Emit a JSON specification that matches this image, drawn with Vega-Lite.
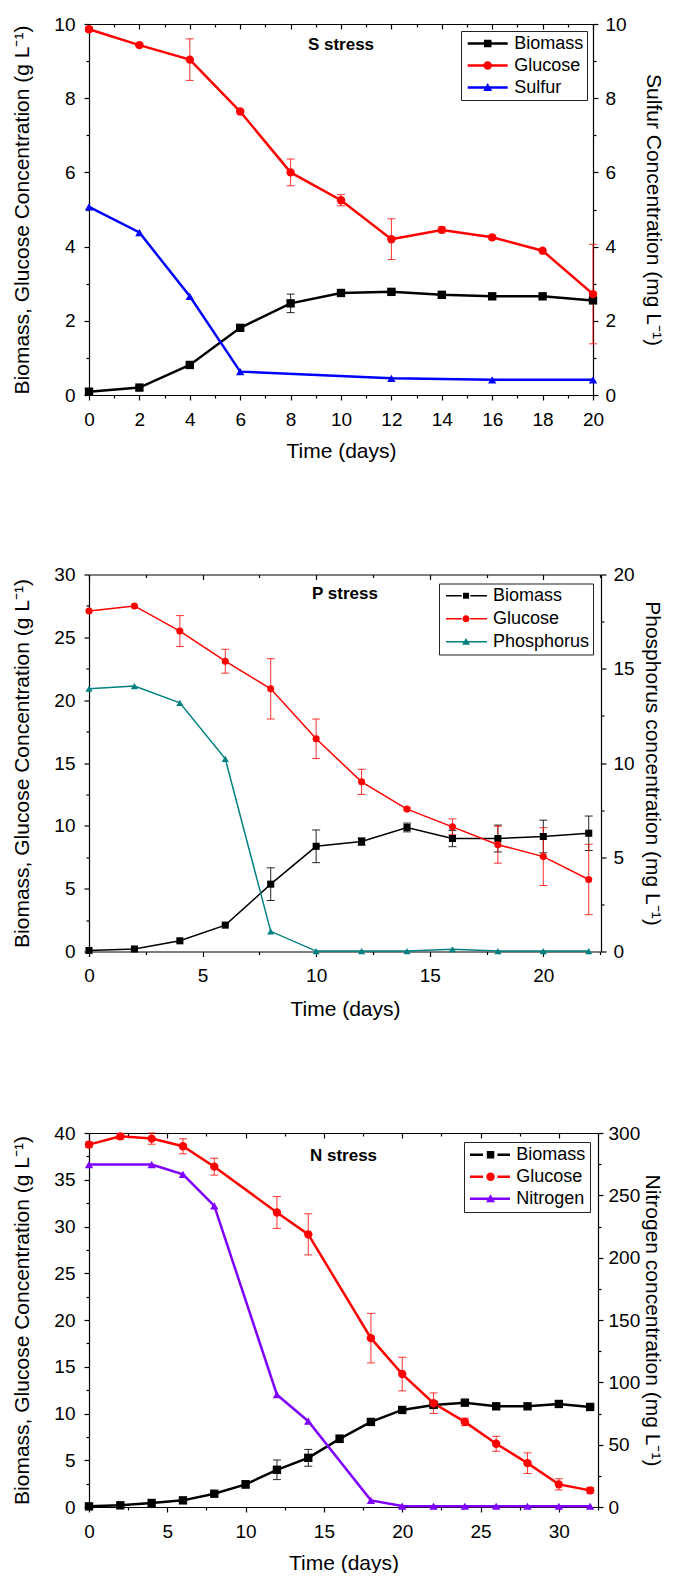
{
"$schema": "https://vega.github.io/schema/vega-lite/v6.json",
"background": "white",
"padding": {"left": 11, "top": 15, "right": 0, "bottom": 0},
"spacing": 104.5,
"config": {
  "view": {"stroke": null},
  "font": "Liberation Sans",
  "axis": {"labelFont": "Liberation Sans", "titleFont": "Liberation Sans", "labelColor": "black", "titleColor": "black", "domainColor": "black", "tickColor": "black", "grid": false, "labelFontSize": 19, "titleFontSize": 21, "titleFontWeight": "normal", "domainWidth": 1.2, "tickWidth": 1.2, "labelFlush": false, "labelOverlap": false}
},
"resolve": {"scale": {"x": "independent", "y": "independent", "color": "independent", "shape": "independent"}, "legend": {"color": "independent", "shape": "independent"}},
"datasets": {
"p1": [
{"t":0,"s":"Biomass","v":0.09,"e":0},{"t":2,"s":"Biomass","v":0.2,"e":0},{"t":4,"s":"Biomass","v":0.81,"e":0},{"t":6,"s":"Biomass","v":1.81,"e":0},{"t":8,"s":"Biomass","v":2.47,"e":0.25},{"t":10,"s":"Biomass","v":2.75,"e":0.08},{"t":12,"s":"Biomass","v":2.78,"e":0.05},{"t":14,"s":"Biomass","v":2.7,"e":0},{"t":16,"s":"Biomass","v":2.66,"e":0},{"t":18,"s":"Biomass","v":2.66,"e":0},{"t":20,"s":"Biomass","v":2.55,"e":0},
{"t":0,"s":"Glucose","v":9.86,"e":0.06},{"t":2,"s":"Glucose","v":9.43,"e":0.04},{"t":4,"s":"Glucose","v":9.04,"e":0.56},{"t":6,"s":"Glucose","v":7.64,"e":0.04},{"t":8,"s":"Glucose","v":6.0,"e":0.36},{"t":10,"s":"Glucose","v":5.25,"e":0.15},{"t":12,"s":"Glucose","v":4.2,"e":0.55},{"t":14,"s":"Glucose","v":4.45,"e":0.08},{"t":16,"s":"Glucose","v":4.25,"e":0.05},{"t":18,"s":"Glucose","v":3.89,"e":0},{"t":20,"s":"Glucose","v":2.72,"e":1.34},
{"t":0,"s":"Sulfur","v":5.07,"e":0},{"t":2,"s":"Sulfur","v":4.38,"e":0},{"t":4,"s":"Sulfur","v":2.66,"e":0},{"t":6,"s":"Sulfur","v":0.63,"e":0},{"t":12,"s":"Sulfur","v":0.45,"e":0},{"t":16,"s":"Sulfur","v":0.41,"e":0},{"t":20,"s":"Sulfur","v":0.41,"e":0}
],
"p2": [
{"t":0,"s":"Biomass","v":0.08,"e":0},{"t":2,"s":"Biomass","v":0.2,"e":0},{"t":4,"s":"Biomass","v":0.85,"e":0},{"t":6,"s":"Biomass","v":2.1,"e":0},{"t":8,"s":"Biomass","v":5.36,"e":1.3},{"t":10,"s":"Biomass","v":8.37,"e":1.3},{"t":12,"s":"Biomass","v":8.75,"e":0.3},{"t":14,"s":"Biomass","v":9.87,"e":0.35},{"t":16,"s":"Biomass","v":8.99,"e":0.65},{"t":18,"s":"Biomass","v":8.99,"e":1.07},{"t":20,"s":"Biomass","v":9.15,"e":1.3},{"t":22,"s":"Biomass","v":9.41,"e":1.37},
{"t":0,"s":"Glucose","v":27.1,"e":0},{"t":2,"s":"Glucose","v":27.5,"e":0},{"t":4,"s":"Glucose","v":25.5,"e":1.23},{"t":6,"s":"Glucose","v":23.1,"e":0.95},{"t":8,"s":"Glucose","v":20.9,"e":2.4},{"t":10,"s":"Glucose","v":16.93,"e":1.57},{"t":12,"s":"Glucose","v":13.5,"e":1.0},{"t":14,"s":"Glucose","v":11.33,"e":0.1},{"t":16,"s":"Glucose","v":9.92,"e":0.63},{"t":18,"s":"Glucose","v":8.5,"e":1.47},{"t":20,"s":"Glucose","v":7.55,"e":2.3},{"t":22,"s":"Glucose","v":5.73,"e":2.8},
{"t":0,"s":"Phosphorus","v":13.94,"e":0},{"t":2,"s":"Phosphorus","v":14.08,"e":0},{"t":4,"s":"Phosphorus","v":13.19,"e":0},{"t":6,"s":"Phosphorus","v":10.22,"e":0},{"t":8,"s":"Phosphorus","v":1.07,"e":0},{"t":10,"s":"Phosphorus","v":0.02,"e":0},{"t":12,"s":"Phosphorus","v":0.02,"e":0},{"t":14,"s":"Phosphorus","v":0.02,"e":0},{"t":16,"s":"Phosphorus","v":0.12,"e":0},{"t":18,"s":"Phosphorus","v":0.02,"e":0},{"t":20,"s":"Phosphorus","v":0.02,"e":0},{"t":22,"s":"Phosphorus","v":0.02,"e":0}
],
"p3": [
{"t":0,"s":"Biomass","v":0.07,"e":0},{"t":2,"s":"Biomass","v":0.18,"e":0},{"t":4,"s":"Biomass","v":0.43,"e":0},{"t":6,"s":"Biomass","v":0.71,"e":0},{"t":8,"s":"Biomass","v":1.42,"e":0},{"t":10,"s":"Biomass","v":2.42,"e":0.4},{"t":12,"s":"Biomass","v":3.98,"e":1.05},{"t":14,"s":"Biomass","v":5.26,"e":0.9},{"t":16,"s":"Biomass","v":7.29,"e":0.4},{"t":18,"s":"Biomass","v":9.1,"e":0.15},{"t":20,"s":"Biomass","v":10.38,"e":0.15},{"t":22,"s":"Biomass","v":10.92,"e":0.3},{"t":24,"s":"Biomass","v":11.16,"e":0.1},{"t":26,"s":"Biomass","v":10.77,"e":0},{"t":28,"s":"Biomass","v":10.77,"e":0},{"t":30,"s":"Biomass","v":11.02,"e":0},{"t":32,"s":"Biomass","v":10.7,"e":0},
{"t":0,"s":"Glucose","v":38.76,"e":0.3},{"t":2,"s":"Glucose","v":39.64,"e":0.3},{"t":4,"s":"Glucose","v":39.4,"e":0.6},{"t":6,"s":"Glucose","v":38.58,"e":0.8},{"t":8,"s":"Glucose","v":36.4,"e":0.9},{"t":12,"s":"Glucose","v":31.5,"e":1.7},{"t":14,"s":"Glucose","v":29.16,"e":2.2},{"t":18,"s":"Glucose","v":18.06,"e":2.65},{"t":20,"s":"Glucose","v":14.22,"e":1.8},{"t":22,"s":"Glucose","v":11.1,"e":1.1},{"t":24,"s":"Glucose","v":9.1,"e":0.4},{"t":26,"s":"Glucose","v":6.76,"e":0.8},{"t":28,"s":"Glucose","v":4.69,"e":1.1},{"t":30,"s":"Glucose","v":2.42,"e":0.6},{"t":32,"s":"Glucose","v":1.78,"e":0.3},
{"t":0,"s":"Nitrogen","v":274.7,"e":0},{"t":4,"s":"Nitrogen","v":274.7,"e":0},{"t":6,"s":"Nitrogen","v":266.9,"e":0},{"t":8,"s":"Nitrogen","v":241.6,"e":0},{"t":12,"s":"Nitrogen","v":90.1,"e":0},{"t":14,"s":"Nitrogen","v":68.8,"e":0},{"t":18,"s":"Nitrogen","v":5.3,"e":0},{"t":20,"s":"Nitrogen","v":0.8,"e":0},{"t":22,"s":"Nitrogen","v":0.6,"e":0},{"t":24,"s":"Nitrogen","v":0.6,"e":0},{"t":26,"s":"Nitrogen","v":0.6,"e":0},{"t":28,"s":"Nitrogen","v":0.6,"e":0},{"t":30,"s":"Nitrogen","v":0.6,"e":0},{"t":32,"s":"Nitrogen","v":0.6,"e":0}
]
},
"vconcat": [
{
 "data": {"name": "p1"},
 "width": 504, "height": 371,
 "title": {"text": "S stress", "fontSize": 17, "fontWeight": "bold", "font": "Liberation Sans", "anchor": "middle", "baseline": "middle", "offset": -47, "color": "black"},
 "resolve": {"scale": {"y": "independent"}, "axis": {"x": "independent", "y": "independent"}},
 "layer": [
  {
   "resolve": {"axis": {"x": "independent", "y": "independent"}},
   "layer": [
    {"transform": [{"filter": "datum.s === 'Biomass' && datum.e > 0"}],
     "mark": {"type": "errorbar", "color": "#000000", "thickness": 1, "ticks": {"size": 8}, "opacity": 0.85},
     "encoding": {"x": {"field": "t", "type": "quantitative", "scale": {"domain": [0, 20], "nice": false}, "axis": null},
      "y": {"field": "v", "type": "quantitative", "scale": {"domain": [0, 10], "nice": false}, "axis": null}, "yError": {"field": "e"}}},
    {"transform": [{"filter": "datum.s === 'Glucose' && datum.e > 0"}],
     "mark": {"type": "errorbar", "color": "#ff0000", "thickness": 1, "ticks": {"size": 8}, "opacity": 0.8},
     "encoding": {"x": {"field": "t", "type": "quantitative", "scale": {"domain": [0, 20], "nice": false}, "axis": null},
      "y": {"field": "v", "type": "quantitative", "scale": {"domain": [0, 10], "nice": false}, "axis": null}, "yError": {"field": "e"}}},
    {"transform": [{"filter": "datum.s === 'Biomass'"}],
     "mark": {"type": "line", "color": "#000000", "strokeWidth": 2.5},
     "encoding": {"x": {"field": "t", "type": "quantitative", "scale": {"domain": [0, 20], "nice": false}, "axis": {"orient": "bottom", "values": [0,2,4,6,8,10,12,14,16,18,20], "title": "Time (days)", "tickSize": 5, "labelPadding": 10, "titlePadding": 11}},
      "y": {"field": "v", "type": "quantitative", "scale": {"domain": [0, 10], "nice": false}, "axis": {"orient": "left", "values": [0,2,4,6,8,10], "title": "Biomass, Glucose Concentration (g L⁻¹)", "tickSize": 5, "labelPadding": 9, "titlePadding": 21}}}},
    {"transform": [{"filter": "datum.s === 'Glucose'"}],
     "mark": {"type": "line", "color": "#ff0000", "strokeWidth": 2.5},
     "encoding": {"x": {"field": "t", "type": "quantitative", "scale": {"domain": [0, 20], "nice": false}, "axis": {"orient": "bottom", "values": [1,3,5,7,9,11,13,15,17,19], "tickSize": 3, "labels": false, "domain": false, "title": null}},
      "y": {"field": "v", "type": "quantitative", "scale": {"domain": [0, 10], "nice": false}, "axis": {"orient": "left", "values": [1,3,5,7,9], "tickSize": 3, "labels": false, "domain": false, "title": null}}}},
    {"transform": [{"filter": "datum.s === 'Biomass'"}],
     "mark": {"type": "point", "shape": "square", "filled": true, "color": "#000000", "size": 70, "opacity": 1},
     "encoding": {"x": {"field": "t", "type": "quantitative", "scale": {"domain": [0, 20], "nice": false}, "axis": null},
      "y": {"field": "v", "type": "quantitative", "scale": {"domain": [0, 10], "nice": false}, "axis": null}}},
    {"transform": [{"filter": "datum.s === 'Glucose'"}],
     "mark": {"type": "point", "shape": "circle", "filled": true, "color": "#ff0000", "size": 70, "opacity": 1},
     "encoding": {"x": {"field": "t", "type": "quantitative", "scale": {"domain": [0, 20], "nice": false}, "axis": null},
      "y": {"field": "v", "type": "quantitative", "scale": {"domain": [0, 10], "nice": false}, "axis": null}}}
   ]
  },
  {
   "transform": [{"filter": "datum.s === 'Sulfur'"}],
   "resolve": {"axis": {"x": "independent", "y": "independent"}},
   "layer": [
    {"mark": {"type": "line", "color": "#0000ff", "strokeWidth": 2.5},
     "encoding": {"x": {"field": "t", "type": "quantitative", "scale": {"domain": [0, 20], "nice": false}, "axis": {"orient": "top", "values": [0,2,4,6,8,10,12,14,16,18,20], "tickSize": -5, "labels": false, "title": null}},
      "y": {"field": "v", "type": "quantitative", "scale": {"domain": [0, 10], "nice": false}, "axis": {"orient": "right", "values": [0,2,4,6,8,10], "title": "Sulfur Concentration (mg L⁻¹)", "tickSize": 5, "labelPadding": 7, "titlePadding": 16}}}},
    {"mark": {"type": "point", "shape": "triangle-up", "filled": true, "color": "#0000ff", "size": 70, "opacity": 1},
     "encoding": {"x": {"field": "t", "type": "quantitative", "scale": {"domain": [0, 20], "nice": false}, "axis": {"orient": "top", "values": [1,3,5,7,9,11,13,15,17,19], "tickSize": -3, "labels": false, "domain": false, "title": null}},
      "y": {"field": "v", "type": "quantitative", "scale": {"domain": [0, 10], "nice": false}, "axis": {"orient": "right", "values": [1,3,5,7,9], "tickSize": 3, "labels": false, "domain": false, "title": null}}}}
   ]
  },
  {
   "mark": {"type": "point", "filled": true, "opacity": 0, "size": 256},
   "encoding": {
    "x": {"field": "t", "type": "quantitative", "scale": {"domain": [0, 20], "nice": false}, "axis": null},
    "y": {"field": "v", "type": "quantitative", "scale": {"domain": [0, 10], "nice": false, "clamp": true}, "axis": null},
    "color": {"field": "s", "type": "nominal", "scale": {"domain": ["Biomass", "Glucose", "Sulfur"], "range": ["#000000", "#ff0000", "#0000ff"]},
      "legend": {"title": null, "orient": "top-right", "offset": 6.5, "padding": 3.5, "rowPadding": 4, "strokeColor": "#222222", "fillColor": "white", "symbolSize": 256, "symbolStrokeWidth": 0, "symbolOpacity": 1, "labelOffset": 31.8, "labelFontSize": 18, "labelFont": "Liberation Sans", "labelColor": "black", "labelLimit": 0}},
    "shape": {"field": "s", "type": "nominal", "scale": {"domain": ["Biomass", "Glucose", "Sulfur"], "range": [
      "M-0.725,-0.156H4.275V0.156H-0.725ZM1.305,-0.47H2.245V0.47H1.305Z",
      "M-0.725,-0.156H4.275V0.156H-0.725ZM1.245,0A0.53,0.53,0,1,1,2.305,0A0.53,0.53,0,1,1,1.245,0Z",
      "M-0.725,-0.156H4.275V0.156H-0.725ZM1.775,-0.55L2.335,0.45H1.215Z"]},
      "legend": {"title": null, "orient": "top-right", "offset": 6.5, "padding": 3.5, "rowPadding": 4, "strokeColor": "#222222", "fillColor": "white", "symbolSize": 256, "symbolStrokeWidth": 0, "symbolOpacity": 1, "labelOffset": 31.8, "labelFontSize": 18, "labelFont": "Liberation Sans", "labelColor": "black", "labelLimit": 0}}
   }
  }
 ]
},
{
 "data": {"name": "p2"},
 "width": 512, "height": 377,
 "title": {"text": "P stress", "fontSize": 17, "fontWeight": "bold", "font": "Liberation Sans", "anchor": "middle", "baseline": "middle", "offset": -45, "color": "black"},
 "resolve": {"scale": {"y": "independent"}, "axis": {"x": "independent", "y": "independent"}},
 "layer": [
  {
   "resolve": {"axis": {"x": "independent", "y": "independent"}},
   "layer": [
    {"transform": [{"filter": "datum.s === 'Biomass' && datum.e > 0"}],
     "mark": {"type": "errorbar", "color": "#000000", "thickness": 1, "ticks": {"size": 8}, "opacity": 0.85},
     "encoding": {"x": {"field": "t", "type": "quantitative", "scale": {"domain": [0, 22.54], "nice": false}, "axis": null},
      "y": {"field": "v", "type": "quantitative", "scale": {"domain": [0, 30], "nice": false}, "axis": null}, "yError": {"field": "e"}}},
    {"transform": [{"filter": "datum.s === 'Glucose' && datum.e > 0"}],
     "mark": {"type": "errorbar", "color": "#ff0000", "thickness": 1, "ticks": {"size": 8}, "opacity": 0.8},
     "encoding": {"x": {"field": "t", "type": "quantitative", "scale": {"domain": [0, 22.54], "nice": false}, "axis": null},
      "y": {"field": "v", "type": "quantitative", "scale": {"domain": [0, 30], "nice": false}, "axis": null}, "yError": {"field": "e"}}},
    {"transform": [{"filter": "datum.s === 'Biomass'"}],
     "mark": {"type": "line", "color": "#000000", "strokeWidth": 1.5},
     "encoding": {"x": {"field": "t", "type": "quantitative", "scale": {"domain": [0, 22.54], "nice": false}, "axis": {"orient": "bottom", "values": [0,5,10,15,20], "title": "Time (days)", "tickSize": 5, "labelPadding": 10, "titlePadding": 13}},
      "y": {"field": "v", "type": "quantitative", "scale": {"domain": [0, 30], "nice": false}, "axis": {"orient": "left", "values": [0,5,10,15,20,25,30], "title": "Biomass, Glucose Concentration (g L⁻¹)", "tickSize": 5, "labelPadding": 9, "titlePadding": 21}}}},
    {"transform": [{"filter": "datum.s === 'Glucose'"}],
     "mark": {"type": "line", "color": "#ff0000", "strokeWidth": 1.5},
     "encoding": {"x": {"field": "t", "type": "quantitative", "scale": {"domain": [0, 22.54], "nice": false}, "axis": {"orient": "bottom", "values": [2.5,7.5,12.5,17.5,22.5], "tickSize": 3, "labels": false, "domain": false, "title": null}},
      "y": {"field": "v", "type": "quantitative", "scale": {"domain": [0, 30], "nice": false}, "axis": {"orient": "left", "values": [2.5,7.5,12.5,17.5,22.5,27.5], "tickSize": 3, "labels": false, "domain": false, "title": null}}}},
    {"transform": [{"filter": "datum.s === 'Biomass'"}],
     "mark": {"type": "point", "shape": "square", "filled": true, "color": "#000000", "size": 50, "opacity": 1},
     "encoding": {"x": {"field": "t", "type": "quantitative", "scale": {"domain": [0, 22.54], "nice": false}, "axis": null},
      "y": {"field": "v", "type": "quantitative", "scale": {"domain": [0, 30], "nice": false}, "axis": null}}},
    {"transform": [{"filter": "datum.s === 'Glucose'"}],
     "mark": {"type": "point", "shape": "circle", "filled": true, "color": "#ff0000", "size": 50, "opacity": 1},
     "encoding": {"x": {"field": "t", "type": "quantitative", "scale": {"domain": [0, 22.54], "nice": false}, "axis": null},
      "y": {"field": "v", "type": "quantitative", "scale": {"domain": [0, 30], "nice": false}, "axis": null}}}
   ]
  },
  {
   "transform": [{"filter": "datum.s === 'Phosphorus'"}],
   "resolve": {"axis": {"x": "independent", "y": "independent"}},
   "layer": [
    {"mark": {"type": "line", "color": "#008080", "strokeWidth": 1.5},
     "encoding": {"x": {"field": "t", "type": "quantitative", "scale": {"domain": [0, 22.54], "nice": false}, "axis": {"orient": "top", "values": [0,5,10,15,20], "tickSize": -5, "labels": false, "title": null}},
      "y": {"field": "v", "type": "quantitative", "scale": {"domain": [0, 20], "nice": false}, "axis": {"orient": "right", "values": [0,5,10,15,20], "title": "Phosphorus concentration (mg L⁻¹)", "tickSize": 5, "labelPadding": 7, "titlePadding": 7}}}},
    {"mark": {"type": "point", "shape": "triangle-up", "filled": true, "color": "#008080", "size": 50, "opacity": 1},
     "encoding": {"x": {"field": "t", "type": "quantitative", "scale": {"domain": [0, 22.54], "nice": false}, "axis": {"orient": "top", "values": [2.5,7.5,12.5,17.5,22.5], "tickSize": -3, "labels": false, "domain": false, "title": null}},
      "y": {"field": "v", "type": "quantitative", "scale": {"domain": [0, 20], "nice": false}, "axis": {"orient": "right", "values": [2.5,7.5,12.5,17.5], "tickSize": 3, "labels": false, "domain": false, "title": null}}}}
   ]
  },
  {
   "mark": {"type": "point", "filled": true, "opacity": 0, "size": 256},
   "encoding": {
    "x": {"field": "t", "type": "quantitative", "scale": {"domain": [0, 22.54], "nice": false}, "axis": null},
    "y": {"field": "v", "type": "quantitative", "scale": {"domain": [0, 30], "nice": false, "clamp": true}, "axis": null},
    "color": {"field": "s", "type": "nominal", "scale": {"domain": ["Biomass", "Glucose", "Phosphorus"], "range": ["#000000", "#ff0000", "#008080"]},
      "legend": {"title": null, "orient": "top-right", "offset": 8.5, "padding": 3.3, "rowPadding": 5, "strokeColor": "#222222", "fillColor": "white", "symbolSize": 256, "symbolStrokeWidth": 0, "symbolOpacity": 1, "labelOffset": 32.7, "labelFontSize": 18, "labelFont": "Liberation Sans", "labelColor": "black", "labelLimit": 0}},
    "shape": {"field": "s", "type": "nominal", "scale": {"domain": ["Biomass", "Glucose", "Phosphorus"], "range": [
      "M-0.66,-0.094H1.3V0.094H-0.66ZM2.38,-0.094H4.46V0.094H2.38ZM1.465,-0.375H2.215V0.375H1.465Z",
      "M-0.66,-0.094H1.3V0.094H-0.66ZM2.38,-0.094H4.46V0.094H2.38ZM1.4,0A0.44,0.44,0,1,1,2.28,0A0.44,0.44,0,1,1,1.4,0Z",
      "M-0.66,-0.094H4.46V0.094H-0.66ZM1.84,-0.48L2.33,0.38H1.35Z"]},
      "legend": {"title": null, "orient": "top-right", "offset": 8.5, "padding": 3.3, "rowPadding": 5, "strokeColor": "#222222", "fillColor": "white", "symbolSize": 256, "symbolStrokeWidth": 0, "symbolOpacity": 1, "labelOffset": 32.7, "labelFontSize": 18, "labelFont": "Liberation Sans", "labelColor": "black", "labelLimit": 0}}
   }
  }
 ]
},
{
 "data": {"name": "p3"},
 "width": 509, "height": 374,
 "title": {"text": "N stress", "fontSize": 17, "fontWeight": "bold", "font": "Liberation Sans", "anchor": "middle", "baseline": "middle", "offset": -49, "color": "black"},
 "resolve": {"scale": {"y": "independent"}, "axis": {"x": "independent", "y": "independent"}},
 "layer": [
  {
   "resolve": {"axis": {"x": "independent", "y": "independent"}},
   "layer": [
    {"transform": [{"filter": "datum.s === 'Biomass' && datum.e > 0"}],
     "mark": {"type": "errorbar", "color": "#000000", "thickness": 1, "ticks": {"size": 8}, "opacity": 0.85},
     "encoding": {"x": {"field": "t", "type": "quantitative", "scale": {"domain": [0, 32.5], "nice": false}, "axis": null},
      "y": {"field": "v", "type": "quantitative", "scale": {"domain": [0, 40], "nice": false}, "axis": null}, "yError": {"field": "e"}}},
    {"transform": [{"filter": "datum.s === 'Glucose' && datum.e > 0"}],
     "mark": {"type": "errorbar", "color": "#ff0000", "thickness": 1, "ticks": {"size": 8}, "opacity": 0.8},
     "encoding": {"x": {"field": "t", "type": "quantitative", "scale": {"domain": [0, 32.5], "nice": false}, "axis": null},
      "y": {"field": "v", "type": "quantitative", "scale": {"domain": [0, 40], "nice": false}, "axis": null}, "yError": {"field": "e"}}},
    {"transform": [{"filter": "datum.s === 'Biomass'"}],
     "mark": {"type": "line", "color": "#000000", "strokeWidth": 2.5},
     "encoding": {"x": {"field": "t", "type": "quantitative", "scale": {"domain": [0, 32.5], "nice": false}, "axis": {"orient": "bottom", "values": [0,5,10,15,20,25,30], "title": "Time (days)", "tickSize": 5, "labelPadding": 10, "titlePadding": 11}},
      "y": {"field": "v", "type": "quantitative", "scale": {"domain": [0, 40], "nice": false}, "axis": {"orient": "left", "values": [0,5,10,15,20,25,30,35,40], "title": "Biomass, Glucose Concentration (g L⁻¹)", "tickSize": 5, "labelPadding": 9, "titlePadding": 21}}}},
    {"transform": [{"filter": "datum.s === 'Glucose'"}],
     "mark": {"type": "line", "color": "#ff0000", "strokeWidth": 2.5},
     "encoding": {"x": {"field": "t", "type": "quantitative", "scale": {"domain": [0, 32.5], "nice": false}, "axis": {"orient": "bottom", "values": [2.5,7.5,12.5,17.5,22.5,27.5,32.5], "tickSize": 3, "labels": false, "domain": false, "title": null}},
      "y": {"field": "v", "type": "quantitative", "scale": {"domain": [0, 40], "nice": false}, "axis": {"orient": "left", "values": [2.5,7.5,12.5,17.5,22.5,27.5,32.5,37.5], "tickSize": 3, "labels": false, "domain": false, "title": null}}}},
    {"transform": [{"filter": "datum.s === 'Biomass'"}],
     "mark": {"type": "point", "shape": "square", "filled": true, "color": "#000000", "size": 70, "opacity": 1},
     "encoding": {"x": {"field": "t", "type": "quantitative", "scale": {"domain": [0, 32.5], "nice": false}, "axis": null},
      "y": {"field": "v", "type": "quantitative", "scale": {"domain": [0, 40], "nice": false}, "axis": null}}},
    {"transform": [{"filter": "datum.s === 'Glucose'"}],
     "mark": {"type": "point", "shape": "circle", "filled": true, "color": "#ff0000", "size": 70, "opacity": 1},
     "encoding": {"x": {"field": "t", "type": "quantitative", "scale": {"domain": [0, 32.5], "nice": false}, "axis": null},
      "y": {"field": "v", "type": "quantitative", "scale": {"domain": [0, 40], "nice": false}, "axis": null}}}
   ]
  },
  {
   "transform": [{"filter": "datum.s === 'Nitrogen'"}],
   "resolve": {"axis": {"x": "independent", "y": "independent"}},
   "layer": [
    {"mark": {"type": "line", "color": "#8000ff", "strokeWidth": 2.5},
     "encoding": {"x": {"field": "t", "type": "quantitative", "scale": {"domain": [0, 32.5], "nice": false}, "axis": {"orient": "top", "values": [0,5,10,15,20,25,30], "tickSize": -5, "labels": false, "title": null}},
      "y": {"field": "v", "type": "quantitative", "scale": {"domain": [0, 300], "nice": false}, "axis": {"orient": "right", "values": [0,50,100,150,200,250,300], "title": "Nitrogen concentration (mg L⁻¹)", "tickSize": 5, "labelPadding": 5, "titlePadding": 2}}}},
    {"mark": {"type": "point", "shape": "triangle-up", "filled": true, "color": "#8000ff", "size": 70, "opacity": 1},
     "encoding": {"x": {"field": "t", "type": "quantitative", "scale": {"domain": [0, 32.5], "nice": false}, "axis": {"orient": "top", "values": [2.5,7.5,12.5,17.5,22.5,27.5,32.5], "tickSize": -3, "labels": false, "domain": false, "title": null}},
      "y": {"field": "v", "type": "quantitative", "scale": {"domain": [0, 300], "nice": false}, "axis": {"orient": "right", "values": [25,75,125,175,225,275], "tickSize": 3, "labels": false, "domain": false, "title": null}}}}
   ]
  },
  {
   "mark": {"type": "point", "filled": true, "opacity": 0, "size": 256},
   "encoding": {
    "x": {"field": "t", "type": "quantitative", "scale": {"domain": [0, 32.5], "nice": false}, "axis": null},
    "y": {"field": "v", "type": "quantitative", "scale": {"domain": [0, 300], "nice": false, "clamp": true}, "axis": null},
    "color": {"field": "s", "type": "nominal", "scale": {"domain": ["Biomass", "Glucose", "Nitrogen"], "range": ["#000000", "#ff0000", "#8000ff"]},
      "legend": {"title": null, "orient": "top-right", "offset": 8.5, "padding": 3.7, "rowPadding": 4, "strokeColor": "#222222", "fillColor": "white", "symbolSize": 256, "symbolStrokeWidth": 0, "symbolOpacity": 1, "labelOffset": 30.6, "labelFontSize": 18, "labelFont": "Liberation Sans", "labelColor": "black", "labelLimit": 0}},
    "shape": {"field": "s", "type": "nominal", "scale": {"domain": ["Biomass", "Glucose", "Nitrogen"], "range": [
      "M-0.84,-0.156H0.79V0.156H-0.84ZM2.6,-0.156H4.16V0.156H2.6ZM1.26,-0.47H2.2V0.47H1.26Z",
      "M-0.84,-0.156H0.79V0.156H-0.84ZM2.6,-0.156H4.16V0.156H2.6ZM1.2,0A0.53,0.53,0,1,1,2.26,0A0.53,0.53,0,1,1,1.2,0Z",
      "M-0.84,-0.156H4.16V0.156H-0.84ZM1.73,-0.55L2.29,0.45H1.17Z"]},
      "legend": {"title": null, "orient": "top-right", "offset": 8.5, "padding": 3.7, "rowPadding": 4, "strokeColor": "#222222", "fillColor": "white", "symbolSize": 256, "symbolStrokeWidth": 0, "symbolOpacity": 1, "labelOffset": 30.6, "labelFontSize": 18, "labelFont": "Liberation Sans", "labelColor": "black", "labelLimit": 0}}
   }
  }
 ]
}
]
}
